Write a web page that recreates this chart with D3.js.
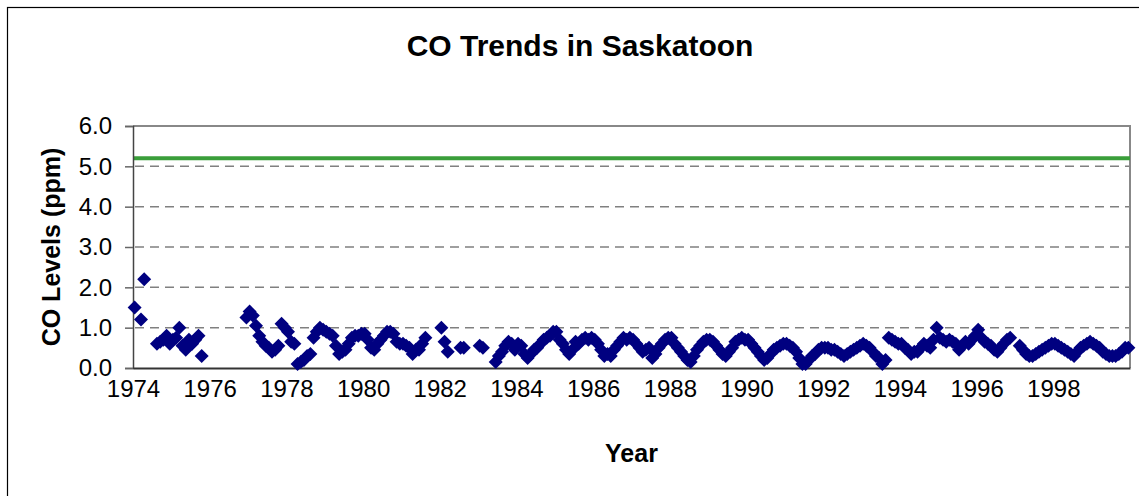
<!DOCTYPE html>
<html>
<head>
<meta charset="utf-8">
<script src="https://cdn.jsdelivr.net/npm/d3@7"></script>
<style>
  body { margin: 0; background: #fff; }
  svg { font-family: "Liberation Sans", Arial, sans-serif; }
</style>
</head>
<body>
<div id="chart"></div>
<script>
// monthly CO readings (ppm), one row per year starting 1974, null = no data
const startYear = 1974;
const monthlyCO = [
  1.5, null, 1.2, 2.2, null, null, null, 0.6, 0.65, 0.7, 0.8, 0.6,      // 1974
  0.7, 0.75, 1.0, 0.55, 0.45, 0.7, 0.6, 0.7, 0.8, 0.3, null, null,      // 1975
  null, null, null, null, null, null, null, null, null, null, null, 1.25, // 1976
  1.4, 1.3, 1.05, 0.8, 0.65, 0.55, 0.5, 0.4, 0.45, 0.55, 1.1, 1.0,      // 1977
  0.9, 0.65, 0.6, 0.1, 0.15, 0.2, 0.3, 0.35, 0.75, 0.9, 1.0, 0.95,      // 1978
  0.9, 0.85, 0.8, 0.55, 0.35, 0.4, 0.45, 0.6, 0.75, 0.8, 0.8, 0.85,     // 1979
  0.85, 0.7, 0.5, 0.45, 0.6, 0.7, 0.8, 0.9, 0.9, 0.85, 0.65, 0.6,       // 1980
  0.6, 0.55, 0.5, 0.35, 0.45, 0.45, 0.6, 0.75, null, null, null, null,  // 1981
  1.0, 0.65, 0.4, null, null, null, 0.5, 0.5, null, null, null, null,   // 1982
  0.55, 0.5, null, null, null, 0.15, 0.3, 0.4, 0.55, 0.65, 0.6, 0.45,   // 1983
  0.6, 0.55, 0.35, 0.25, 0.35, 0.45, 0.5, 0.6, 0.7, 0.75, 0.8, 0.9,     // 1984
  0.9, 0.7, 0.6, 0.45, 0.35, 0.45, 0.65, 0.6, 0.7, 0.75, 0.7, 0.75,     // 1985
  0.7, 0.6, 0.45, 0.3, 0.35, 0.3, 0.45, 0.55, 0.65, 0.75, 0.7, 0.75,    // 1986
  0.7, 0.6, 0.5, 0.4, 0.45, 0.5, 0.25, 0.35, 0.5, 0.6, 0.7, 0.75,       // 1987
  0.75, 0.6, 0.5, 0.4, 0.3, 0.2, 0.15, 0.3, 0.45, 0.55, 0.65, 0.7,      // 1988
  0.7, 0.65, 0.55, 0.45, 0.35, 0.3, 0.4, 0.5, 0.65, 0.7, 0.75, 0.7,     // 1989
  0.7, 0.6, 0.5, 0.4, 0.3, 0.2, 0.25, 0.35, 0.45, 0.5, 0.55, 0.6,       // 1990
  0.6, 0.55, 0.5, 0.4, 0.25, 0.1, 0.1, 0.2, 0.3, 0.35, 0.45, 0.5,       // 1991
  0.5, 0.5, 0.45, 0.45, 0.4, 0.35, 0.3, 0.35, 0.4, 0.45, 0.5, 0.55,     // 1992
  0.6, 0.55, 0.5, 0.4, 0.3, 0.25, 0.1, 0.2, 0.75, 0.7, 0.65, 0.6,       // 1993
  0.6, 0.5, 0.45, 0.35, 0.4, 0.4, 0.5, 0.6, 0.55, 0.5, 0.7, 1.0,        // 1994
  0.75, 0.7, 0.65, 0.7, 0.65, 0.6, 0.45, 0.55, 0.65, 0.6, 0.7, 0.8,     // 1995
  0.95, 0.75, 0.65, 0.6, 0.55, 0.45, 0.4, 0.5, 0.6, 0.7, 0.75, null,    // 1996
  null, 0.55, 0.45, 0.35, 0.3, 0.3, 0.35, 0.4, 0.45, 0.5, 0.55, 0.6,    // 1997
  0.6, 0.55, 0.5, 0.45, 0.4, 0.35, 0.3, 0.4, 0.5, 0.55, 0.6, 0.65,      // 1998
  0.6, 0.55, 0.5, 0.4, 0.35, 0.3, 0.3, 0.3, 0.35, 0.4, 0.5, 0.5         // 1999
];
const yTicks = [0, 1, 2, 3, 4, 5, 6];
const xTickYears = [1974, 1976, 1978, 1980, 1982, 1984, 1986, 1988, 1990, 1992, 1994, 1996, 1998];
const xDomain = [1974, 2000];
const objectiveLevel = 5.2;

function draw_chart(wrapper)
{
  var margin = {top: 126, right: 9, bottom: 128, left: 133},
      width = 1139,
      height = 496;

  const svg = d3.select(wrapper).append("svg")
    .attr("width", width)
    .attr("height", height);

  const points = monthlyCO
    .map((v, i) => ({t: startYear + (i + 0.5) / 12, v: v}))
    .filter(d => d.v !== null);

  const xScale = d3.scaleLinear()
    .domain(xDomain)
    .range([margin.left, width - margin.right]);
  const yScale = d3.scaleLinear()
    .domain([0, 6])
    .range([height - margin.bottom, margin.top]);

  // outer chart frame
  svg.append("rect")
    .attr("x", 7.5).attr("y", 7.5)
    .attr("width", 1200).attr("height", 600)
    .attr("fill", "none")
    .attr("stroke", "#000")
    .attr("stroke-width", 1.2);

  // dashed gridlines
  svg.append("g")
    .selectAll("line")
    .data(yTicks.filter(d => d > 0 && d < 6))
    .join("line")
      .attr("x1", xScale(xDomain[0]) + 2)
      .attr("x2", xScale(xDomain[1]))
      .attr("y1", d => yScale(d))
      .attr("y2", d => yScale(d))
      .attr("stroke", "#808080")
      .attr("stroke-width", 1.5)
      .attr("stroke-dasharray", "9,6");

  // plot area border (top, right)
  svg.append("path")
    .attr("d", `M${xScale(xDomain[0])},${yScale(6)}H${xScale(xDomain[1])}V${yScale(0)}`)
    .attr("fill", "none")
    .attr("stroke", "#888")
    .attr("stroke-width", 2);

  // objective line
  svg.append("line")
    .attr("x1", xScale(xDomain[0]))
    .attr("x2", xScale(xDomain[1]))
    .attr("y1", yScale(objectiveLevel))
    .attr("y2", yScale(objectiveLevel))
    .attr("stroke", "#3a9e3a")
    .attr("stroke-width", 4);

  const yAxis = d3.axisLeft(yScale)
    .tickValues(yTicks)
    .tickFormat(d3.format(".1f"))
    .tickSize(8)
    .tickPadding(13);
  svg.append("g")
    .attr("transform", `translate(${margin.left},0)`)
    .call(yAxis)
    .call(g => g.select(".domain").attr("stroke", "#444").attr("stroke-width", 1.5))
    .call(g => g.selectAll(".tick line").attr("stroke", "#666").attr("stroke-width", 1.5))
    .call(g => g.selectAll(".tick text").attr("fill", "#000").style("font-size", "24px"));

  const xAxis = d3.axisBottom(xScale)
    .tickValues(xTickYears)
    .tickFormat(d3.format("d"))
    .tickSize(0)
    .tickPadding(12);
  svg.append("g")
    .attr("transform", `translate(0,${height - margin.bottom})`)
    .call(xAxis)
    .call(g => g.select(".domain").attr("stroke", "#333").attr("stroke-width", 2))
    .call(g => g.selectAll(".tick text").attr("fill", "#000").style("font-size", "24px"));

  // markers
  svg.append("g")
    .selectAll("path")
    .data(points)
    .join("path")
      .attr("d", d3.symbol(d3.symbolSquare, 98))
      .attr("transform", d => `translate(${xScale(d.t)},${yScale(d.v)}) rotate(45)`)
      .attr("fill", "#000080");

  svg.append("text")
    .attr("x", 580)
    .attr("y", 56)
    .attr("text-anchor", "middle")
    .attr("font-weight", "bold")
    .style("font-size", "30px")
    .text("CO Trends in Saskatoon");

  svg.append("text")
    .attr("transform", `translate(60,${(yScale(0) + yScale(6)) / 2}) rotate(-90)`)
    .attr("text-anchor", "middle")
    .attr("font-weight", "bold")
    .style("font-size", "25px")
    .text("CO Levels (ppm)");

  svg.append("text")
    .attr("x", (xScale(xDomain[0]) + xScale(xDomain[1])) / 2)
    .attr("y", 462)
    .attr("text-anchor", "middle")
    .attr("font-weight", "bold")
    .style("font-size", "25px")
    .text("Year");
}

draw_chart("#chart");
</script>
</body>
</html>
